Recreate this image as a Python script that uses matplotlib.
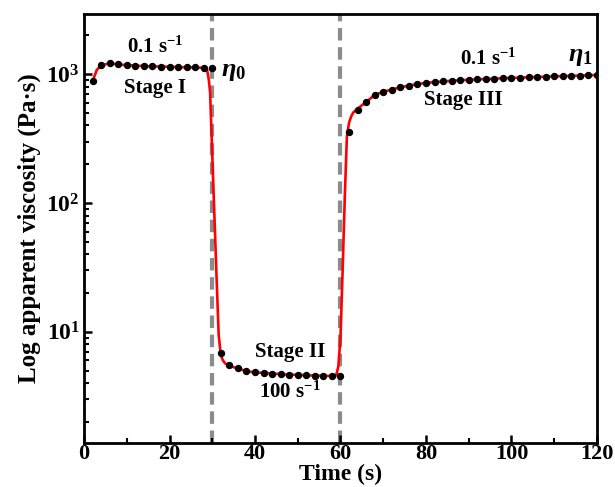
import math
import matplotlib
matplotlib.use("Agg")
import matplotlib.pyplot as plt
from matplotlib.ticker import FixedLocator, LogLocator, NullFormatter, MultipleLocator, FuncFormatter

plt.rcParams['font.family'] = ['Liberation Serif', 'DejaVu Serif']
plt.rcParams['font.weight'] = 'bold'
plt.rcParams['mathtext.fontset'] = 'custom'
plt.rcParams['mathtext.rm'] = 'Liberation Serif:bold'
plt.rcParams['mathtext.bf'] = 'Liberation Serif:bold'
plt.rcParams['mathtext.it'] = 'Liberation Serif:italic'
plt.rcParams['mathtext.default'] = 'rm'

# measured points (s, Pa·s)
time_pts = list(range(2, 121, 2))
stage1 = [881, 1170, 1215, 1190, 1175, 1165, 1155, 1150, 1145, 1140, 1135, 1130, 1128, 1125, 1120]
stage2 = [6.9, 5.5, 5.2, 4.95, 4.85, 4.8, 4.75, 4.7, 4.65, 4.65, 4.6, 4.58, 4.56, 4.55, 4.55]
stage3 = [354, 527, 608, 690, 730, 760, 790, 815, 838, 855, 868, 878, 888, 896, 903,
          910, 917, 923, 929, 935, 940, 946, 951, 956, 961, 966, 970, 975, 980, 985]
visc_pts = stage1 + stage2 + stage3

# fitted curve (red)
fit_time = [2, 3, 4, 6, 8, 10, 12, 14, 16, 18, 20, 22, 24, 26, 28, 28.8, 29.2, 29.5, 30.0, 30.5,
            31.0, 31.5, 32.0, 32.5, 33.0, 34, 36, 38, 40, 42, 44, 46, 48, 50, 52, 54, 56, 58, 59,
            59.5, 60.0, 60.5, 61.0, 61.5, 62.0, 62.5, 63.0, 64, 66, 68, 70, 72, 74, 76, 78, 80, 82,
            84, 86, 88, 90, 92, 94, 96, 98, 100, 102, 104, 106, 108, 110, 112, 114, 116, 118, 120]
fit_visc = [881, 1080, 1170, 1215, 1190, 1175, 1165, 1155, 1150, 1145, 1140, 1135, 1130, 1128, 1120,
            1080, 900, 720, 240, 80, 27, 9.5, 6.6, 6.0, 5.7, 5.45, 5.2, 4.95, 4.85, 4.8, 4.75,
            4.7, 4.65, 4.65, 4.6, 4.58, 4.56, 4.55, 4.6, 5.4, 9, 30, 110, 330, 420, 470, 505, 540,
            608, 690, 730, 760, 790, 815, 838, 855, 868, 878, 888, 896, 903, 910, 917, 923, 929,
            935, 940, 946, 951, 956, 961, 966, 970, 975, 980, 985]

stage_bounds = [30, 60]

fig = plt.figure(figsize=(6.15, 4.87), dpi=100)
ax = fig.add_axes([0.1366, 0.091, 0.8341, 0.881])

for xb in stage_bounds:
    ax.axvline(xb, color='#8c8c8c', lw=3, ls=(0, (3, 1.6)), zorder=1)

ax.plot(fit_time, fit_visc, color='red', lw=1.9, zorder=2)
ax.plot(time_pts, visc_pts, 'o', color='black', ms=4.3, zorder=3)

ax.set_yscale('log')
ax.set_xlim(0, 120)
ax.set_ylim(1.38, 2950)
ax.xaxis.set_major_locator(MultipleLocator(20))
ax.xaxis.set_minor_locator(MultipleLocator(10))
ax.yaxis.set_major_locator(FixedLocator([10, 100, 1000]))
ax.yaxis.set_minor_locator(LogLocator(base=10, subs=range(2, 10)))
ax.yaxis.set_minor_formatter(NullFormatter())
ax.yaxis.set_major_formatter(FuncFormatter(lambda v, p: r'$10^{%d}$' % round(math.log10(v))))

ax.tick_params(which='major', direction='in', length=6, width=1.8, labelsize=17, pad=3)
ax.tick_params(axis='x', which='major', labelsize=16, pad=1)
ax.tick_params(which='minor', direction='in', length=3.5, width=1.5)
for s in ax.spines.values():
    s.set_linewidth(2)
for lab in ax.get_xticklabels() + ax.get_yticklabels():
    lab.set_fontweight('bold')

ax.set_xlabel('Time (s)', fontsize=17, fontweight='bold', labelpad=0)
ax.set_ylabel('Log apparent viscosity (Pa·s)', fontsize=18, fontweight='bold', labelpad=4)

tk = dict(fontsize=15, fontweight='bold', ha='center', va='center')
ax.text(16.6, 1625, r'0.1 s$^{-1}$', **tk)
ax.text(16.6, 787, 'Stage I', **tk)
ax.text(48.2, 7.0, 'Stage II', **tk)
ax.text(48.2, 3.4, r'100 s$^{-1}$', **tk)
ax.text(94.5, 1300, r'0.1 s$^{-1}$', **tk)
ax.text(88.7, 627, 'Stage III', **tk)
ax.text(35.0, 1040, r'$\mathit{\eta}_{0}$', fontsize=19, ha='center', va='center')
ax.text(116.2, 1360, r'$\mathit{\eta}_{1}$', fontsize=19, ha='center', va='center')

fig.savefig('out.png', dpi=100)
